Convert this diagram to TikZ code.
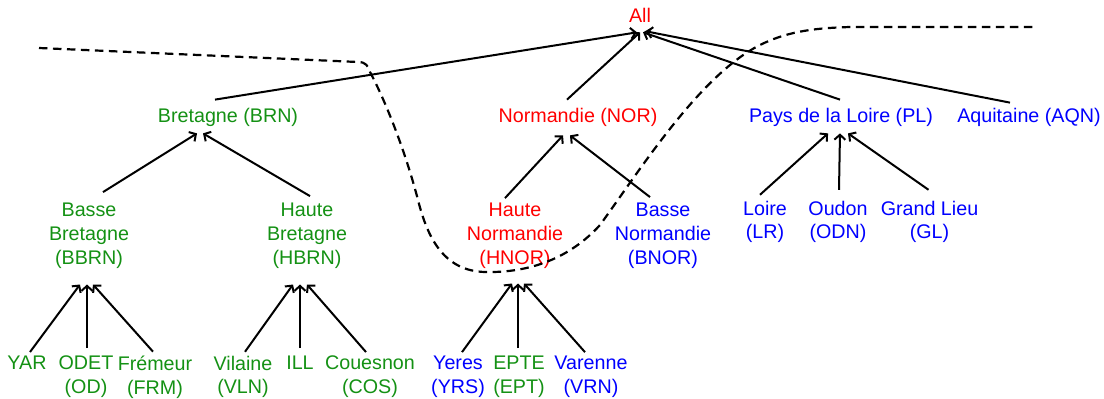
\documentclass[tikz,border=0pt]{standalone}
\usepackage{fontspec}
\setmainfont{Liberation Sans}
\usetikzlibrary{arrows.meta,calc}
\definecolor{cgreen}{RGB}{20,145,20}
\definecolor{cred}{RGB}{255,0,0}
\definecolor{cblue}{RGB}{0,0,255}
\tikzset{
  lbl/.style={font=\fontsize{19.7}{23.7}\selectfont, inner sep=5pt, align=center},
  tg/.style={lbl, text=cgreen},
  tr/.style={lbl, text=cred},
  tb/.style={lbl, text=cblue},
  arr/.style={-{Straight Barb[length=5pt,width=11pt]}, line width=2pt},
  dashline/.style={line width=2.2pt, dash pattern=on 8.5pt off 5.5pt}
}
\begin{document}
\begin{tikzpicture}[x=1pt,y=-1pt]
\useasboundingbox (0,0) rectangle (1104,399);
% nodes
\node[tr] (all) at (640,15) {All};
\node[tg] (brn) at (228,117) {Bretagne (BRN)};
\node[tr] (nor) at (578,117) {Normandie (NOR)};
\node[tb] (pl) at (841,117) {Pays de la Loire (PL)};
\node[tb] (aqn) at (1029,117) {Aquitaine (AQN)};
\node[tg] (bbrn) at (89,235.8) {Basse\\Bretagne\\(BBRN)};
\node[tg] (hbrn) at (307,235.8) {Haute\\Bretagne\\(HBRN)};
\node[tr] (hnor) at (515,235.8) {Haute\\Normandie\\(HNOR)};
\node[tb] (bnor) at (663,235.8) {Basse\\Normandie\\(BNOR)};
\node[tb] (lr) at (765,222) {Loire\\(LR)};
\node[tb] (odn) at (838,222) {Oudon\\(ODN)};
\node[tb] (gl) at (929.5,222) {Grand Lieu\\(GL)};
\node[tg] (yar) at (27,363) {YAR};
\node[tg] (od) at (86,377) {ODET\\(OD)};
\node[tg] (frm) at (155,377) {Frémeur\\(FRM)};
\node[tg] (vln) at (243,377) {Vilaine\\(VLN)};
\node[tg] (ill) at (300,363) {ILL};
\node[tg] (cos) at (370,377) {Couesnon\\(COS)};
\node[tb] (yrs) at (458,377) {Yeres\\(YRS)};
\node[tg] (ept) at (519,377) {EPTE\\(EPT)};
\node[tb] (vrn) at (591,377) {Varenne\\(VRN)};
% dashed separation curve
\draw[dashline] (39,48) -- (358,62) .. controls (366,62) and (368,66) .. (370,72)
  .. controls (385,100) and (405,150) .. (418,200)
  .. controls (428,240) and (445,271) .. (485,272)
  .. controls (530,273) and (570,258) .. (600,225)
  .. controls (640,170) and (700,75) .. (760,45)
  .. controls (790,30) and (820,28) .. (850,27) -- (1036,27);
% arrows
\draw[arr] ($(brn.north)+(-13,-3)$) -- ($(all.south)+(-3,5)$);
\draw[arr] ($(nor.north)+(-11,-3)$) -- ($(all.south)+(0,5)$);
\draw[arr] ($(pl.north)+(-1,-3)$) -- ($(all.south)+(3,5)$);
\draw[arr] ($(aqn.north)+(-19,0)$) -- ($(all.south)+(6,4)$);
\draw[arr] ($(bbrn.north)+(14,-6)$) -- ($(brn.south)+(-31,2)$);
\draw[arr] ($(hbrn.north)+(3,-2)$) -- ($(brn.south)+(-25,2)$);
\draw[arr] ($(hnor.north)+(-10,0)$) -- ($(nor.south)+(-15,4)$);
\draw[arr] ($(bnor.north)+(-13,-1)$) -- ($(nor.south)+(-8,4)$);
\draw[arr] ($(lr.north)+(-5,-1)$) -- ($(pl.south)+(-13,2)$);
\draw[arr] ($(odn.north)+(1,-6)$) -- ($(pl.south)+(-1,2)$);
\draw[arr] ($(gl.north)+(-1,-6)$) -- ($(pl.south)+(7,2)$);
\draw[arr] ($(yar.north)+(3,1)$) -- ($(bbrn.south)+(-9,11)$);
\draw[arr] ($(od.north)+(1,-3)$) -- ($(bbrn.south)+(-2,11)$);
\draw[arr] ($(frm.north)+(-2,1)$) -- ($(bbrn.south)+(4,11)$);
\draw[arr] ($(vln.north)+(2,1)$) -- ($(hbrn.south)+(-14,11)$);
\draw[arr] ($(ill.north)+(0,-3)$) -- ($(hbrn.south)+(-7,11)$);
\draw[arr] ($(cos.north)+(-4,1)$) -- ($(hbrn.south)+(0,11)$);
\draw[arr] ($(yrs.north)+(4,1)$) -- ($(hnor.south)+(-3,10)$);
\draw[arr] ($(ept.north)+(-1,-3)$) -- ($(hnor.south)+(3,10)$);
\draw[arr] ($(vrn.north)+(-6,1)$) -- ($(hnor.south)+(9,10)$);
\end{tikzpicture}
\end{document}
